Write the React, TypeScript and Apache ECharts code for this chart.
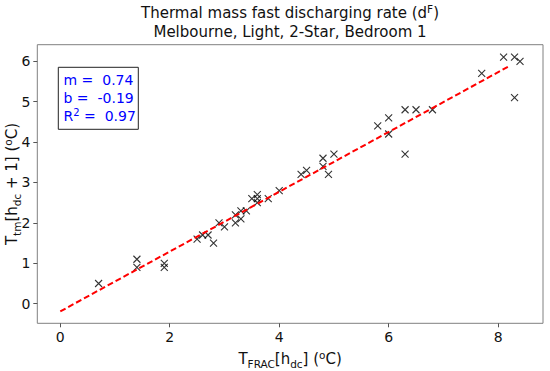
import React, { useEffect, useRef } from "react";
import * as echarts from "echarts";

const xData = [0.7, 1.4, 1.4, 1.9, 1.9, 2.5, 2.6, 2.7, 2.8, 2.9, 3.0, 3.2, 3.2, 3.3, 3.3, 3.4, 3.5, 3.6, 3.6, 3.6, 3.8, 4.0, 4.4, 4.5, 4.8, 4.8, 4.9, 5.0, 5.8, 6.0, 6.0, 6.3, 6.3, 6.5, 6.8, 7.7, 8.1, 8.3, 8.3, 8.4];
const yData = [0.5, 1.1, 0.9, 1.0, 0.9, 1.6, 1.7, 1.7, 1.5, 2.0, 1.9, 2.2, 2.0, 2.3, 2.1, 2.3, 2.6, 2.7, 2.6, 2.5, 2.6, 2.8, 3.2, 3.3, 3.6, 3.4, 3.2, 3.7, 4.4, 4.6, 4.2, 4.8, 3.7, 4.8, 4.8, 5.7, 6.1, 6.1, 5.1, 6.0];
const slope = 0.74;
const intercept = -0.19;
const rSquared = 0.97;
const fitX = [0, 8.2];
const xTicks = [0, 2, 4, 6, 8];
const yTicks = [0, 1, 2, 3, 4, 5, 6];

const FONT = "DejaVu Sans";

export default function App() {
  const ref = useRef<HTMLDivElement>(null);
  useEffect(() => {
    const chart = echarts.init(ref.current!, null, { renderer: "svg" });
    const points = xData.map((x, i) => [x, yData[i]]);
    const fit = fitX.map((x) => [x, slope * x + intercept]);
    const nameRich = {
      n: { fontFamily: FONT, fontSize: 15, color: "#111", fill: "#111", lineHeight: 20, verticalAlign: "middle" },
      sub: { fontFamily: FONT, fontSize: 10.5, color: "#111", fill: "#111", lineHeight: 10, verticalAlign: "bottom" },
      sup: { fontFamily: FONT, fontSize: 10.5, color: "#111", fill: "#111", lineHeight: 10, verticalAlign: "top" },
    };
    chart.setOption({
      animation: false,
      grid: {
        left: 37.3,
        right: 7,
        top: 44.7,
        bottom: 47.7,
        show: true,
        borderColor: "#808080",
        borderWidth: 1,
        backgroundColor: "#fff",
        containLabel: false,
        outerBoundsMode: "none",
      },
      xAxis: {
        type: "value",
        min: -0.42,
        max: 8.82,
        splitLine: { show: false },
        axisLine: { show: false, onZero: false },
        axisTick: { show: true, customValues: xTicks, length: 4, lineStyle: { color: "#555" } },
        axisLabel: { customValues: xTicks, fontSize: 14, color: "#111", margin: 7, fontFamily: FONT },
        name: "{n|T}{sub|FRAC}{n|[h}{sub|dc}{n|] (}{sup|o}{n|C)}",
        nameLocation: "middle",
        nameGap: 24,
        nameTextStyle: { rich: nameRich },
      },
      yAxis: {
        type: "value",
        min: -0.485,
        max: 6.41,
        splitLine: { show: false },
        axisLine: { show: false, onZero: false },
        axisTick: { show: true, customValues: yTicks, length: 4, lineStyle: { color: "#555" } },
        axisLabel: { customValues: yTicks, fontSize: 14, color: "#111", margin: 7, fontFamily: FONT },
      },
      series: [
        {
          type: "line",
          data: fit,
          showSymbol: false,
          symbol: "none",
          lineStyle: { color: "#ff0000", width: 2, type: [6, 3] },
          z: 3,
        },
        {
          type: "scatter",
          data: points,
          symbol: "path://M0,0L10,10M10,0L0,10",
          symbolSize: 7,
          itemStyle: { color: "rgba(0,0,0,0)", borderColor: "#000", borderWidth: 1.1 },
          z: 2,
        },
      ],
      graphic: [
        {
          type: "text",
          x: 2,
          y: 184,
          rotation: Math.PI / 2,
          style: {
            text: "{n|T}{sub|tm}{n|[h}{sub|dc}{n| + 1] (}{sup|o}{n|C)}",
            textAlign: "center",
            align: "center",
            textVerticalAlign: "top",
            verticalAlign: "top",
            rich: nameRich,
          },
        },
        {
          type: "text",
          x: 290,
          y: 13,
          style: {
            text: "{n|Thermal mass fast discharging rate (d}{s|F}{n|)}",
            textAlign: "center",
            align: "center",
            textVerticalAlign: "middle",
            verticalAlign: "middle",
            rich: {
              n: { fontFamily: FONT, fontSize: 15, fill: "#111", color: "#111", lineHeight: 20, verticalAlign: "middle" },
              s: { fontFamily: FONT, fontSize: 10.5, fill: "#111", color: "#111", lineHeight: 10, verticalAlign: "top" },
            },
          },
        },
        {
          type: "text",
          x: 290,
          y: 32,
          style: {
            text: "Melbourne, Light, 2-Star, Bedroom 1",
            font: `15px "${FONT}"`,
            fill: "#111",
            textAlign: "center",
            align: "center",
            textVerticalAlign: "middle",
            verticalAlign: "middle",
          },
        },
        {
          type: "rect",
          shape: { x: 58.3, y: 67.3, width: 80, height: 62 },
          style: { fill: "#fff", stroke: "#222", lineWidth: 1 },
          z: 10,
        },
        {
          type: "text",
          x: 63.5,
          y: 71,
          z: 11,
          style: {
            text: `{a|m =  ${slope.toFixed(2)}}\n{a|b =  ${intercept.toFixed(2)}}\n{a|R}{s|2}{a| =  ${rSquared.toFixed(2)}}`,
            textAlign: "left",
            align: "left",
            textVerticalAlign: "top",
            verticalAlign: "top",
            rich: {
              a: { fontFamily: FONT, fontSize: 14, fill: "#0000ff", color: "#0000ff", lineHeight: 18, verticalAlign: "middle" },
              s: { fontFamily: FONT, fontSize: 10, fill: "#0000ff", color: "#0000ff", lineHeight: 10, verticalAlign: "top" },
            },
          },
        },
      ],
    });
    return () => chart.dispose();
  }, []);
  return <div ref={ref} style={{ position: "absolute", left: 0, top: 0, width: 550, height: 371 }} />;
}
